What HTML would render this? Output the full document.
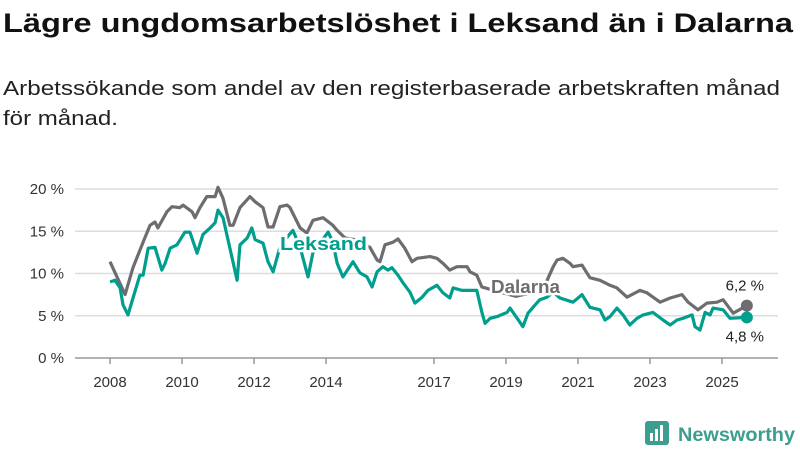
<!DOCTYPE html>
<html><head><meta charset="utf-8">
<style>
body{margin:0;width:800px;height:450px;background:#fff;font-family:"Liberation Sans","DejaVu Sans",sans-serif;overflow:hidden;position:relative}
svg{position:absolute;left:0;top:0}
</style></head><body>
<svg id="chart" width="800" height="450">
<text x="3" y="32" font-size="27" font-weight="bold" fill="#111" textLength="790" lengthAdjust="spacingAndGlyphs">Lägre ungdomsarbetslöshet i Leksand än i Dalarna</text>
<g>
<text x="3" y="95" font-size="20" fill="#222" textLength="777" lengthAdjust="spacingAndGlyphs">Arbetssökande som andel av den registerbaserade arbetskraften månad</text>
<text x="3" y="125" font-size="20" fill="#222" textLength="115" lengthAdjust="spacingAndGlyphs">för månad.</text>
</g>
</svg>
<script>
const dalT=[2008.00,2008.42,2008.64,2008.92,2009.11,2009.25,2009.33,2009.58,2009.72,2009.94,2010.03,2010.28,2010.36,2010.5,2010.69,2010.92,2011.0,2011.14,2011.33,2011.42,2011.61,2011.89,2012.03,2012.25,2012.39,2012.53,2012.72,2012.92,2013.0,2013.28,2013.47,2013.64,2013.92,2014.19,2014.31,2014.53,2014.81,2015.08,2015.22,2015.42,2015.5,2015.64,2015.86,2016.0,2016.19,2016.39,2016.53,2016.89,2017.08,2017.25,2017.44,2017.64,2017.92,2018.0,2018.19,2018.33,2018.5,2018.83,2019.28,2019.67,2020.08,2020.31,2020.42,2020.58,2020.78,2020.86,2021.11,2021.33,2021.61,2021.89,2022.08,2022.36,2022.72,2022.92,2023.28,2023.56,2023.89,2024.06,2024.33,2024.58,2024.86,2025.03,2025.31,2025.69];
const dalV=[11.4,7.5,10.7,13.7,15.7,16.1,15.4,17.3,17.9,17.8,18.1,17.3,16.6,17.8,19.1,19.1,20.2,18.9,15.7,15.7,17.8,19.1,18.5,17.8,15.5,15.5,17.9,18.1,17.8,15.4,14.8,16.3,16.6,15.7,15.1,14.2,14.0,13.4,13.1,11.6,11.4,13.4,13.7,14.1,13.0,11.4,11.8,12.0,11.8,11.2,10.4,10.8,10.8,10.2,9.8,8.4,8.2,7.8,7.3,7.7,8.6,10.8,11.6,11.8,11.2,10.8,11.0,9.5,9.2,8.6,8.3,7.2,8.0,7.7,6.6,7.1,7.5,6.6,5.7,6.5,6.6,6.9,5.3,6.2];
const lekT=[2008.0,2008.14,2008.28,2008.36,2008.5,2008.64,2008.83,2008.92,2009.06,2009.25,2009.44,2009.53,2009.67,2009.86,2010.08,2010.22,2010.42,2010.58,2010.78,2010.92,2011.0,2011.14,2011.33,2011.53,2011.61,2011.81,2011.94,2012.03,2012.25,2012.39,2012.53,2012.72,2012.92,2013.08,2013.28,2013.5,2013.64,2013.83,2014.06,2014.19,2014.31,2014.47,2014.75,2014.94,2015.14,2015.28,2015.42,2015.58,2015.72,2015.83,2016.0,2016.14,2016.33,2016.47,2016.67,2016.83,2017.08,2017.25,2017.44,2017.53,2017.78,2018.19,2018.33,2018.42,2018.56,2018.75,2019.03,2019.11,2019.31,2019.47,2019.61,2019.75,2019.94,2020.14,2020.31,2020.5,2020.86,2021.11,2021.33,2021.61,2021.75,2021.89,2022.08,2022.25,2022.44,2022.64,2022.81,2023.08,2023.36,2023.56,2023.75,2023.92,2024.17,2024.25,2024.39,2024.53,2024.67,2024.75,2025.03,2025.22,2025.69];
const lekV=[9.0,9.2,8.3,6.3,5.1,7.1,9.8,9.8,13.0,13.1,10.4,11.2,13.0,13.4,14.9,14.9,12.4,14.6,15.4,16.0,17.5,16.6,13.0,9.2,13.4,14.2,15.4,14.0,13.6,11.4,10.2,13.1,14.3,15.1,13.1,9.6,12.5,13.6,14.9,13.7,11.2,9.6,11.4,10.1,9.6,8.4,10.2,10.8,10.4,10.7,9.8,8.9,7.8,6.5,7.2,8.0,8.6,7.7,7.1,8.3,8.0,8.0,5.4,4.1,4.7,4.9,5.4,5.9,4.7,3.7,5.3,6.0,6.9,7.2,7.8,7.1,6.6,7.5,6.0,5.7,4.5,4.9,5.9,5.1,3.9,4.7,5.1,5.4,4.5,3.9,4.5,4.7,5.1,3.7,3.3,5.4,5.1,5.9,5.7,4.7,4.8];
const yTicks=[0,5,10,15,20];
const xTicks=[2008,2010,2012,2014,2017,2019,2021,2023,2025];
const NS="http://www.w3.org/2000/svg";
const svg=document.getElementById('chart');
const X=t=>110+(t-2008)*36;
const Y=v=>358-v*8.45;
function mk(tag,at,txt){const e=document.createElementNS(NS,tag);for(const k in at)e.setAttribute(k,at[k]);if(txt!==undefined)e.textContent=txt;svg.appendChild(e);return e;}
yTicks.forEach(v=>{
 const g=mk('line',{x1:75,x2:778,y1:Y(v),y2:Y(v),stroke:v===0?'#999':'#ddd','stroke-width':1.5});
 
 
 const t=mk('text',{x:64,y:Y(v)+5,'text-anchor':'end','font-size':15,fill:'#333'},v+' %');
 
 
});
xTicks.forEach(yr=>{
 const l=mk('line',{x1:X(yr),x2:X(yr),y1:358,y2:364,stroke:'#999','stroke-width':1.5});
 
 
 const t=mk('text',{x:X(yr),y:387,'text-anchor':'middle','font-size':15,fill:'#333'},yr);
 
 
});
function path(T,V){return T.map((t,i)=>(i?'L':'M')+X(t).toFixed(1)+','+Y(V[i]).toFixed(1)).join('');}
const pd=mk('path',{d:path(dalT,dalV),fill:'none',stroke:'#6d6c70','stroke-width':3.2,'stroke-linejoin':'round'});


const pl=mk('path',{d:path(lekT,lekV),fill:'none',stroke:'#009e8e','stroke-width':3.2,'stroke-linejoin':'round'});


const dl=dalT.length-1, ll=lekT.length-1;
const c1=mk('circle',{cx:X(dalT[dl]),cy:Y(dalV[dl]),r:6,fill:'#6d6c70'});


const c2=mk('circle',{cx:X(lekT[ll]),cy:Y(lekV[ll]),r:6,fill:'#009e8e'});


const v1=mk('text',{x:X(dalT[dl])-2,y:Y(dalV[dl])-15,'text-anchor':'middle','font-size':15,fill:'#222'},dalV[dl].toFixed(1).replace('.',',')+' %');


const v2=mk('text',{x:X(lekT[ll])-2,y:Y(lekV[ll])+24,'text-anchor':'middle','font-size':15,fill:'#222'},lekV[ll].toFixed(1).replace('.',',')+' %');


const s1=mk('text',{x:280,y:250,'font-size':18,'font-weight':'bold',fill:'#009e8e',stroke:'#fff','stroke-width':5,'paint-order':'stroke',textLength:87,lengthAdjust:'spacingAndGlyphs'},'Leksand');


const s2=mk('text',{x:491,y:293,'font-size':18,'font-weight':'bold',fill:'#6d6c70',stroke:'#fff','stroke-width':5,'paint-order':'stroke',textLength:69,lengthAdjust:'spacingAndGlyphs'},'Dalarna');


const lg=mk('g',{});


const r=document.createElementNS(NS,'rect');
r.setAttribute('x',645);r.setAttribute('y',421);r.setAttribute('width',24);r.setAttribute('height',24);r.setAttribute('rx',3);r.setAttribute('fill','#3d9e8f');lg.appendChild(r);
[[650,433,3,8],[655,429,3,12],[660,425,3,16]].forEach(b=>{const e=document.createElementNS(NS,'rect');e.setAttribute('x',b[0]);e.setAttribute('y',b[1]);e.setAttribute('width',b[2]);e.setAttribute('height',b[3]);e.setAttribute('fill','#fff');lg.appendChild(e);});
const lt=document.createElementNS(NS,'text');
lt.setAttribute('x',678);lt.setAttribute('y',441);lt.setAttribute('font-size',19);lt.setAttribute('font-weight','bold');lt.setAttribute('fill','#3d9e8f');lt.setAttribute('textLength',117);lt.setAttribute('lengthAdjust','spacingAndGlyphs');lt.textContent='Newsworthy';lg.appendChild(lt);
</script>
</body></html>
